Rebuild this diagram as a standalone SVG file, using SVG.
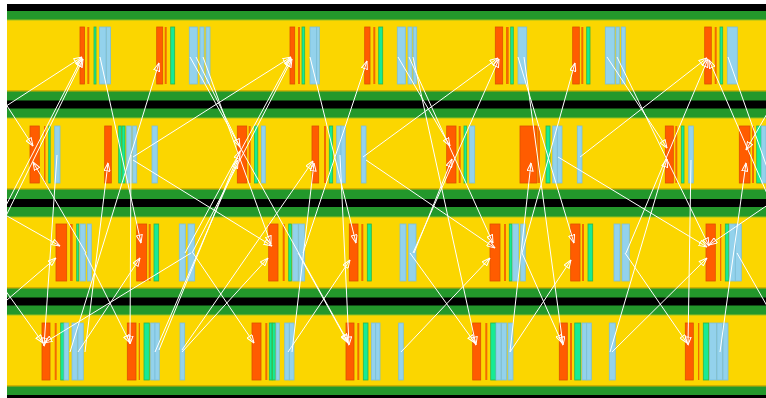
<svg xmlns="http://www.w3.org/2000/svg" width="766" height="398" viewBox="0 0 766 398">
<style>
.gr{fill:#23982b}
.bk{fill:#000}
.ln{fill:#fbd600}
.te{fill:#9cc21f}
.be{fill:#d2b000}
.o{fill:#ff5c00;stroke:#dd5000;stroke-width:0.8}
.t{fill:#f26b00}
.g{fill:#17ea95;stroke:#2cb54c;stroke-width:0.8}
.b{fill:#93d2ec;stroke:#7cbedb;stroke-width:0.8}
.c line{stroke:#fff;stroke-width:1;marker-end:url(#ah)}
.c line.n{marker-end:none}
</style>
<defs>
<marker id="ah" viewBox="0 0 9 7" refX="8.5" refY="3.5" markerWidth="9" markerHeight="7" markerUnits="userSpaceOnUse" orient="auto">
<path d="M0.5,0.5 L8.5,3.5 L0.5,6.5 Z" fill="none" stroke="#fff" stroke-width="1"/>
</marker>
<clipPath id="cp"><rect x="7" y="0" width="759" height="398"/></clipPath>
</defs>
<rect width="766" height="398" fill="#fff"/>
<g id="bands">
<rect class="bk" x="7" y="4" width="759" height="7"/>
<rect class="gr" x="7" y="11" width="759" height="9"/>
<rect class="ln" x="7" y="20" width="759" height="71"/>
<rect class="gr" x="7" y="91" width="759" height="27"/>
<rect class="bk" x="7" y="100.5" width="759" height="8"/>
<rect class="ln" x="7" y="118" width="759" height="71"/>
<rect class="gr" x="7" y="189" width="759" height="28"/>
<rect class="bk" x="7" y="199" width="759" height="8"/>
<rect class="ln" x="7" y="217" width="759" height="71"/>
<rect class="gr" x="7" y="288" width="759" height="27"/>
<rect class="bk" x="7" y="297.5" width="759" height="8"/>
<rect class="ln" x="7" y="315" width="759" height="71"/>
<rect class="gr" x="7" y="386" width="759" height="9"/>
<rect class="bk" x="7" y="395" width="759" height="3"/>
<rect class="te" x="7" y="19.5" width="759" height="1"/>
<rect class="te" x="7" y="117.5" width="759" height="1"/>
<rect class="te" x="7" y="216.5" width="759" height="1"/>
<rect class="te" x="7" y="314.5" width="759" height="1"/>
<rect class="be" x="7" y="90" width="759" height="1.5"/>
<rect class="be" x="7" y="188" width="759" height="1.5"/>
<rect class="be" x="7" y="287" width="759" height="1.5"/>
<rect class="be" x="7" y="385" width="759" height="1.5"/>
</g>
<g id="lane1">
<g id="l1c1"><rect class="o" x="80" y="27" width="4.5" height="57"/><rect class="t" x="87.3" y="27" width="2" height="57"/><rect class="g" x="94" y="27" width="2" height="57"/><rect class="b" x="99.5" y="27" width="6.5" height="57"/><rect class="b" x="106.5" y="27" width="4" height="57"/></g>
<g id="l1c2"><rect class="o" x="156.7" y="27" width="6" height="57"/><rect class="t" x="164.7" y="27" width="2" height="57"/><rect class="g" x="170.7" y="27" width="4" height="57"/><rect class="b" x="189.3" y="27" width="8" height="57"/><rect class="b" x="200" y="27" width="4" height="57"/><rect class="b" x="206" y="27" width="4" height="57"/></g>
<g id="l1c3"><rect class="o" x="290" y="27" width="4.7" height="57"/><rect class="t" x="298" y="27" width="2" height="57"/><rect class="g" x="302" y="27" width="2.7" height="57"/><rect class="b" x="310" y="27" width="6.7" height="57"/><rect class="b" x="316.7" y="27" width="2.7" height="57"/></g>
<g id="l1c4"><rect class="o" x="364.7" y="27" width="5.3" height="57"/><rect class="t" x="373.3" y="27" width="2" height="57"/><rect class="g" x="378.7" y="27" width="4" height="57"/><rect class="b" x="397.3" y="27" width="8" height="57"/><rect class="b" x="408" y="27" width="4" height="57"/><rect class="b" x="413.3" y="27" width="3.4" height="57"/></g>
<g id="l1c5"><rect class="o" x="495.3" y="27" width="7.4" height="57"/><rect class="t" x="506" y="27" width="2.7" height="57"/><rect class="g" x="510.7" y="27" width="2.6" height="57"/><rect class="b" x="518" y="27" width="8.7" height="57"/></g>
<g id="l1c6"><rect class="o" x="572.7" y="27" width="6.6" height="57"/><rect class="t" x="581.3" y="27" width="2" height="57"/><rect class="g" x="586.7" y="27" width="3.3" height="57"/><rect class="b" x="605.3" y="27" width="9.4" height="57"/><rect class="b" x="616" y="27" width="3.3" height="57"/><rect class="b" x="621.3" y="27" width="4" height="57"/></g>
<g id="l1c7"><rect class="o" x="704.7" y="27" width="6.6" height="57"/><rect class="t" x="714.7" y="27" width="2" height="57"/><rect class="g" x="720" y="27" width="2.7" height="57"/><rect class="b" x="727.3" y="27" width="10" height="57"/></g>
</g>
<g id="lane2">
<g id="l2c1"><rect class="o" x="30" y="126" width="9.3" height="57"/><rect class="t" x="44" y="126" width="1.5" height="57"/><rect class="g" x="48.7" y="126" width="1.5" height="57"/><rect class="b" x="54.7" y="126" width="5.3" height="57"/></g>
<g id="l2c2"><rect class="o" x="104.7" y="126" width="6.6" height="57"/><rect class="g" x="118.7" y="126" width="2.5" height="57"/><rect class="g" x="122" y="126" width="3" height="57"/><rect class="b" x="126.7" y="126" width="4.6" height="57"/><rect class="b" x="132.7" y="126" width="4" height="57"/><rect class="b" x="152" y="126" width="5.3" height="57"/></g>
<g id="l2c3"><rect class="o" x="237.3" y="126" width="9.4" height="57"/><rect class="t" x="248.7" y="126" width="2" height="57"/><rect class="g" x="254.5" y="126" width="3.3" height="57"/><rect class="b" x="261.3" y="126" width="4" height="57"/></g>
<g id="l2c4"><rect class="o" x="312" y="126" width="6.7" height="57"/><rect class="t" x="324" y="126" width="2" height="57"/><rect class="g" x="329.3" y="126" width="3.4" height="57"/><rect class="b" x="336.7" y="126" width="4.3" height="57"/><rect class="b" x="341" y="126" width="4.3" height="57"/><rect class="b" x="361.3" y="126" width="4.7" height="57"/></g>
<g id="l2c5"><rect class="o" x="446.7" y="126" width="9.3" height="57"/><rect class="t" x="458.7" y="126" width="2" height="57"/><rect class="g" x="464" y="126" width="2.7" height="57"/><rect class="b" x="469.3" y="126" width="5.4" height="57"/></g>
<g id="l2c6"><rect class="o" x="520" y="126" width="16.7" height="57"/><rect class="t" x="537.3" y="126" width="2.7" height="57"/><rect class="g" x="546" y="126" width="4" height="57"/><rect class="b" x="552.7" y="126" width="4.6" height="57"/><rect class="b" x="557.3" y="126" width="4.7" height="57"/><rect class="b" x="577.3" y="126" width="4.7" height="57"/></g>
<g id="l2c7"><rect class="o" x="665.3" y="126" width="8" height="57"/><rect class="t" x="675.3" y="126" width="2" height="57"/><rect class="g" x="681.3" y="126" width="2.7" height="57"/><rect class="b" x="688.7" y="126" width="4.6" height="57"/></g>
<g id="l2c8"><rect class="o" x="739.3" y="126" width="10.7" height="57"/><rect class="t" x="752" y="126" width="2" height="57"/><rect class="g" x="756.7" y="126" width="4.6" height="57"/><rect class="b" x="761.3" y="126" width="4.7" height="57"/></g>
</g>
<g id="lane3">
<g id="l3c1"><rect class="o" x="56" y="224" width="10.7" height="57"/><rect class="t" x="70" y="224" width="2.7" height="57"/><rect class="g" x="76.7" y="224" width="2" height="57"/><rect class="b" x="80" y="224" width="5.3" height="57"/><rect class="b" x="87.3" y="224" width="4" height="57"/></g>
<g id="l3c2"><rect class="o" x="136.7" y="224" width="10" height="57"/><rect class="t" x="148.7" y="224" width="2" height="57"/><rect class="g" x="154" y="224" width="4.7" height="57"/><rect class="b" x="179.3" y="224" width="6" height="57"/><rect class="b" x="188" y="224" width="6.7" height="57"/></g>
<g id="l3c3"><rect class="o" x="268.7" y="224" width="9.3" height="57"/><rect class="t" x="282.7" y="224" width="2" height="57"/><rect class="g" x="288.7" y="224" width="2.6" height="57"/><rect class="b" x="292.7" y="224" width="5.5" height="57"/><rect class="b" x="298.7" y="224" width="6" height="57"/></g>
<g id="l3c4"><rect class="o" x="349.3" y="224" width="8.7" height="57"/><rect class="t" x="361.3" y="224" width="2" height="57"/><rect class="g" x="367.3" y="224" width="4" height="57"/><rect class="b" x="400" y="224" width="6" height="57"/><rect class="b" x="408.7" y="224" width="7.3" height="57"/></g>
<g id="l3c5"><rect class="o" x="490" y="224" width="10" height="57"/><rect class="t" x="504" y="224" width="2" height="57"/><rect class="g" x="509.3" y="224" width="2.7" height="57"/><rect class="b" x="512.7" y="224" width="6" height="57"/><rect class="b" x="520.7" y="224" width="4.6" height="57"/></g>
<g id="l3c6"><rect class="o" x="570.7" y="224" width="9.3" height="57"/><rect class="t" x="582" y="224" width="2" height="57"/><rect class="g" x="588" y="224" width="4.7" height="57"/><rect class="b" x="614" y="224" width="6" height="57"/><rect class="b" x="622" y="224" width="7.3" height="57"/></g>
<g id="l3c7"><rect class="o" x="706" y="224" width="9.3" height="57"/><rect class="t" x="720" y="224" width="1.3" height="57"/><rect class="g" x="725.3" y="224" width="3.4" height="57"/><rect class="b" x="729.3" y="224" width="6" height="57"/><rect class="b" x="735.3" y="224" width="6" height="57"/></g>
</g>
<g id="lane4">
<g id="l4c1"><rect class="o" x="42" y="323" width="8" height="57"/><rect class="t" x="54.7" y="323" width="2" height="57"/><rect class="g" x="60.7" y="323" width="3.3" height="57"/><rect class="b" x="64" y="323" width="4.7" height="57"/><rect class="b" x="72" y="323" width="5.3" height="57"/><rect class="b" x="78" y="323" width="5.3" height="57"/></g>
<g id="l4c2"><rect class="o" x="127.3" y="323" width="8.7" height="57"/><rect class="t" x="138.7" y="323" width="1.3" height="57"/><rect class="g" x="144" y="323" width="5.3" height="57"/><rect class="b" x="150.7" y="323" width="4.3" height="57"/><rect class="b" x="155" y="323" width="4.3" height="57"/><rect class="b" x="180" y="323" width="4.7" height="57"/></g>
<g id="l4c3"><rect class="o" x="252" y="323" width="9" height="57"/><rect class="t" x="265.3" y="323" width="2" height="57"/><rect class="g" x="269.3" y="323" width="2.7" height="57"/><rect class="g" x="272.3" y="323" width="3" height="57"/><rect class="b" x="276" y="323" width="3.3" height="57"/><rect class="b" x="284.7" y="323" width="4.5" height="57"/><rect class="b" x="289.5" y="323" width="4.5" height="57"/></g>
<g id="l4c4"><rect class="o" x="346" y="323" width="8" height="57"/><rect class="t" x="357.3" y="323" width="2" height="57"/><rect class="g" x="363.3" y="323" width="4.7" height="57"/><rect class="b" x="371.3" y="323" width="4.3" height="57"/><rect class="b" x="375.7" y="323" width="4.3" height="57"/><rect class="b" x="398.7" y="323" width="4.6" height="57"/></g>
<g id="l4c5"><rect class="o" x="472.7" y="323" width="8" height="57"/><rect class="t" x="485.3" y="323" width="2" height="57"/><rect class="g" x="490.7" y="323" width="5.3" height="57"/><rect class="b" x="496" y="323" width="5" height="57"/><rect class="b" x="501.5" y="323" width="5" height="57"/><rect class="b" x="508" y="323" width="5" height="57"/></g>
<g id="l4c6"><rect class="o" x="559.3" y="323" width="8" height="57"/><rect class="t" x="570" y="323" width="2" height="57"/><rect class="g" x="574.7" y="323" width="6" height="57"/><rect class="b" x="582" y="323" width="4.6" height="57"/><rect class="b" x="586.7" y="323" width="4.6" height="57"/><rect class="b" x="609.3" y="323" width="6" height="57"/></g>
<g id="l4c7"><rect class="o" x="685.3" y="323" width="8" height="57"/><rect class="t" x="698" y="323" width="1.3" height="57"/><rect class="g" x="703.3" y="323" width="5.4" height="57"/><rect class="b" x="709.5" y="323" width="7" height="57"/><rect class="b" x="717" y="323" width="5.5" height="57"/><rect class="b" x="723" y="323" width="5" height="57"/></g>
</g>
<g id="connectors" class="c" clip-path="url(#cp)">
<line x1="0" y1="110" x2="82" y2="57"/>
<line x1="0" y1="217" x2="82" y2="58"/>
<line x1="2" y1="224" x2="83" y2="59"/>
<line x1="70" y1="352" x2="159" y2="63"/>
<line x1="133" y1="157" x2="291" y2="57"/>
<line x1="185" y1="253" x2="291" y2="58"/>
<line x1="192" y1="253" x2="292" y2="59"/>
<line x1="303" y1="253" x2="367" y2="61"/>
<line x1="363" y1="157" x2="498" y2="58"/>
<line x1="413" y1="253" x2="499" y2="59"/>
<line x1="522" y1="253" x2="575" y2="63"/>
<line x1="580" y1="157" x2="707" y2="58"/>
<line x1="626" y1="253" x2="708" y2="59"/>
<line x1="0" y1="95" x2="33" y2="146"/>
<line x1="85" y1="352" x2="108" y2="163"/>
<line x1="86" y1="253" x2="33" y2="162"/>
<line x1="196" y1="57" x2="240" y2="147"/>
<line x1="155" y1="352" x2="238" y2="160"/>
<line x1="159" y1="350" x2="240" y2="151"/>
<line x1="292" y1="352" x2="314" y2="163"/>
<line x1="182" y1="350" x2="313" y2="161"/>
<line x1="398" y1="57" x2="450" y2="146"/>
<line x1="414" y1="253" x2="452" y2="159"/>
<line x1="510" y1="352" x2="531" y2="163"/>
<line x1="607" y1="57" x2="667" y2="148"/>
<line x1="610" y1="352" x2="667" y2="159"/>
<line x1="720" y1="352" x2="746" y2="163"/>
<line x1="0" y1="212" x2="60" y2="246"/>
<line x1="0" y1="306" x2="56" y2="258"/>
<line x1="100" y1="57" x2="141" y2="243"/>
<line x1="78" y1="352" x2="140" y2="258"/>
<line x1="133" y1="160" x2="272" y2="246"/>
<line x1="182" y1="352" x2="268" y2="258"/>
<line x1="310" y1="57" x2="356" y2="243"/>
<line x1="288" y1="352" x2="350" y2="260"/>
<line x1="366" y1="160" x2="495" y2="248"/>
<line x1="401" y1="352" x2="490" y2="258"/>
<line x1="409" y1="57" x2="493" y2="243"/>
<line x1="518" y1="57" x2="574" y2="243"/>
<line x1="510" y1="352" x2="571" y2="260"/>
<line x1="558" y1="157" x2="707" y2="247"/>
<line x1="612" y1="352" x2="707" y2="258"/>
<line x1="617" y1="57" x2="709" y2="246"/>
<line x1="203" y1="57" x2="271" y2="244"/>
<line x1="0" y1="283" x2="43" y2="343"/>
<line x1="191" y1="253" x2="44" y2="343"/>
<line x1="57" y1="155" x2="44" y2="346"/>
<line x1="85" y1="253" x2="130" y2="343"/>
<line x1="131" y1="155" x2="130" y2="344"/>
<line x1="193" y1="253" x2="254" y2="343"/>
<line x1="190" y1="57" x2="348" y2="342"/>
<line x1="298" y1="253" x2="348" y2="343"/>
<line x1="340" y1="155" x2="349" y2="345"/>
<line x1="410" y1="253" x2="475" y2="343"/>
<line x1="413" y1="57" x2="476" y2="345"/>
<line x1="522" y1="253" x2="562" y2="343"/>
<line x1="524" y1="57" x2="563" y2="345"/>
<line x1="625" y1="253" x2="687" y2="343"/>
<line x1="691" y1="160" x2="688" y2="345"/>
<line class="n" x1="728" y1="57" x2="775" y2="190"/>
<line class="n" x1="737" y1="253" x2="775" y2="320"/>
<line x1="775" y1="100" x2="746" y2="150"/>
<line x1="775" y1="212" x2="709" y2="60"/>
<line x1="775" y1="200" x2="709" y2="245"/>
</g>
</svg>
